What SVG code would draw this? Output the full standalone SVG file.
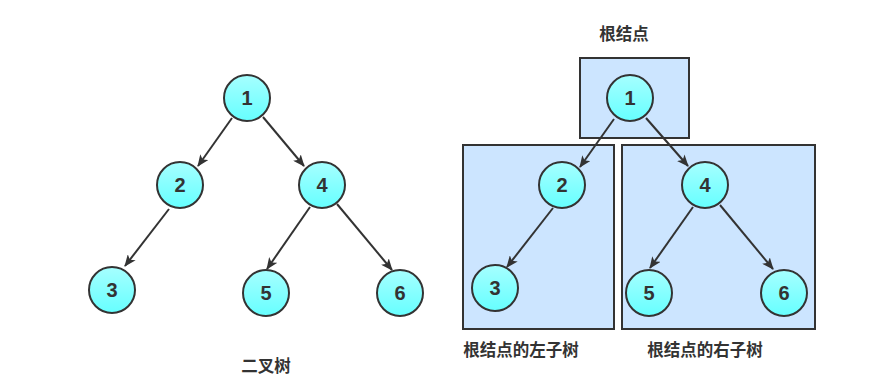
<svg xmlns="http://www.w3.org/2000/svg" width="885" height="378" viewBox="0 0 885 378">
<defs>
<linearGradient id="g" x1="0" y1="0" x2="0" y2="1">
<stop offset="0" stop-color="#a6ffff"/>
<stop offset="1" stop-color="#66ffff"/>
</linearGradient>
<marker id="arr" viewBox="0 0 12 10" refX="11" refY="5" markerWidth="12" markerHeight="10" markerUnits="userSpaceOnUse" orient="auto">
<path d="M0,0 L12,5 L0,10 L3,5 Z" fill="#333"/>
</marker>
</defs>
<style>
.n circle{fill:url(#g);stroke:#333;stroke-width:2}
.n text{font-family:"Liberation Sans",Arial,sans-serif;font-weight:bold;font-size:20px;fill:#333;text-anchor:middle}
.box{fill:#cce5ff;stroke:#333;stroke-width:2}
.lbl{font-family:"Noto Sans CJK SC","Noto Sans",sans-serif;font-weight:bold;font-size:16.5px;fill:#333;text-anchor:middle}
.e line{stroke:#333;stroke-width:2;marker-end:url(#arr)}
</style>
<rect width="885" height="378" fill="#fff"/>
<g id="boxes">
<rect class="box" x="580" y="58" width="109" height="80"/>
<rect class="box" x="463" y="145" width="151" height="184"/>
<rect class="box" x="622" y="145" width="193" height="184"/>
</g>
<g id="connectors" class="e">
<line x1="232" y1="118" x2="198" y2="166"/>
<line x1="263" y1="117" x2="304" y2="166"/>
<line x1="169" y1="209" x2="125" y2="266"/>
<line x1="310" y1="207" x2="267" y2="269"/>
<line x1="337" y1="204" x2="392" y2="270"/>
<line x1="614" y1="119" x2="580" y2="167"/>
<line x1="646" y1="118" x2="688" y2="166"/>
<line x1="553" y1="208" x2="507" y2="267"/>
<line x1="693" y1="207" x2="650" y2="268"/>
<line x1="720" y1="205" x2="773" y2="269"/>
</g>
<g id="L1" class="n"><circle cx="247" cy="98" r="23"/><text x="247" y="105">1</text></g>
<g id="L2" class="n"><circle cx="180" cy="185" r="23"/><text x="180" y="192">2</text></g>
<g id="L4" class="n"><circle cx="322" cy="185" r="23"/><text x="322" y="192">4</text></g>
<g id="L3" class="n"><circle cx="112" cy="290" r="23"/><text x="112" y="297">3</text></g>
<g id="L5" class="n"><circle cx="266" cy="293" r="23"/><text x="266" y="300">5</text></g>
<g id="L6" class="n"><circle cx="400" cy="293" r="23"/><text x="400" y="300">6</text></g>
<g id="R1" class="n"><circle cx="630" cy="98" r="23"/><text x="630" y="105">1</text></g>
<g id="R2" class="n"><circle cx="562" cy="185" r="23"/><text x="562" y="192">2</text></g>
<g id="R4" class="n"><circle cx="705" cy="185" r="23"/><text x="705" y="192">4</text></g>
<g id="R3" class="n"><circle cx="495" cy="288" r="23"/><text x="495" y="295">3</text></g>
<g id="R5" class="n"><circle cx="649" cy="293" r="23"/><text x="649" y="300">5</text></g>
<g id="R6" class="n"><circle cx="784" cy="293" r="23"/><text x="784" y="300">6</text></g>
<g id="labels">
<text class="lbl" x="266" y="372">二叉树</text>
<text class="lbl" x="624" y="40">根结点</text>
<text class="lbl" x="521" y="356">根结点的左子树</text>
<text class="lbl" x="705" y="356">根结点的右子树</text>
</g>
</svg>
